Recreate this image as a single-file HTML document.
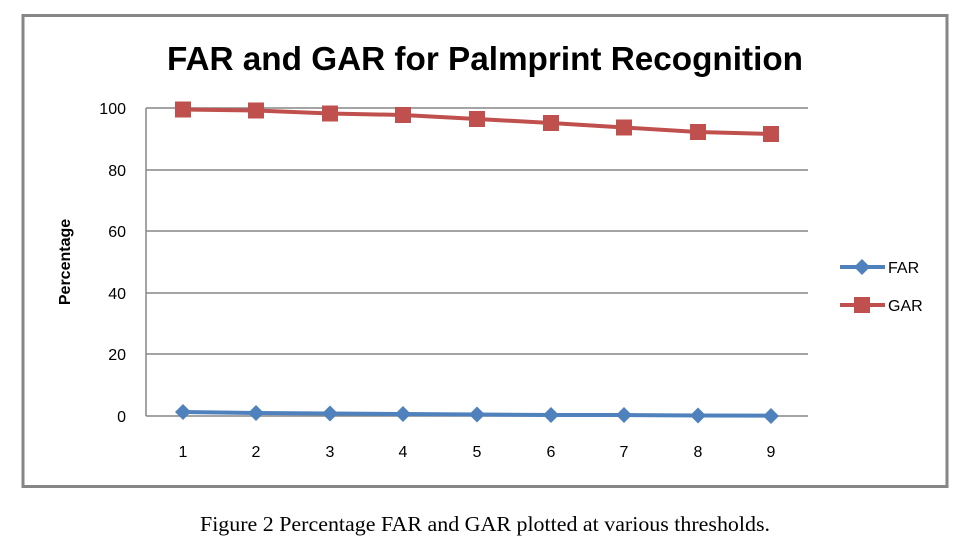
<!DOCTYPE html>
<html><head><style>body{margin:0;background:#fff}svg{display:block}</style></head><body>
<svg width="974" height="545" xmlns="http://www.w3.org/2000/svg" font-family="Liberation Sans, sans-serif">
<rect x="0" y="0" width="974" height="545" fill="#fff"/>
<rect x="23" y="15.5" width="924" height="471" fill="none" stroke="#868686" stroke-width="3"/>
<text x="167" y="70" font-size="33" font-weight="bold" textLength="636" lengthAdjust="spacingAndGlyphs">FAR and GAR for Palmprint Recognition</text>
<g stroke="#868686" stroke-width="1.5">
<line x1="146" y1="108" x2="808" y2="108"/><line x1="146" y1="170" x2="808" y2="170"/>
<line x1="146" y1="231" x2="808" y2="231"/><line x1="146" y1="293" x2="808" y2="293"/>
<line x1="146" y1="354" x2="808" y2="354"/><line x1="146" y1="416" x2="808" y2="416"/>
<line x1="146" y1="108" x2="146" y2="416"/>
</g>
<g font-size="16" text-anchor="end">
<text x="126" y="114">100</text><text x="126" y="176">80</text><text x="126" y="237">60</text>
<text x="126" y="299">40</text><text x="126" y="360">20</text><text x="126" y="422">0</text>
</g>
<g font-size="16" text-anchor="middle">
<text x="183" y="457">1</text><text x="256" y="457">2</text><text x="330" y="457">3</text><text x="403" y="457">4</text>
<text x="477" y="457">5</text><text x="551" y="457">6</text><text x="624" y="457">7</text><text x="698" y="457">8</text><text x="771" y="457">9</text>
</g>
<text transform="translate(70,262) rotate(-90)" text-anchor="middle" font-size="16" font-weight="bold">Percentage</text>
<polyline fill="none" stroke="#4f81bd" stroke-width="4" points="183,412 256,413 330,413.5 403,414 477,414.5 551,415 624,415 698,415.5 771,415.7"/>
<g fill="#4f81bd">
<polygon points="183,404 191,412 183,420 175,412"/><polygon points="256,405 264,413 256,421 248,413"/>
<polygon points="330,405.5 338,413.5 330,421.5 322,413.5"/><polygon points="403,406 411,414 403,422 395,414"/>
<polygon points="477,406.5 485,414.5 477,422.5 469,414.5"/><polygon points="551,407 559,415 551,423 543,415"/>
<polygon points="624,407 632,415 624,423 616,415"/><polygon points="698,407.5 706,415.5 698,423.5 690,415.5"/>
<polygon points="771,408 779,416 771,424 763,416"/>
</g>
<polyline fill="none" stroke="#c0504d" stroke-width="4" points="183,109.5 256,110.5 330,113.5 403,115 477,119 551,123 624,127.5 698,132 771,134"/>
<g fill="#c0504d">
<rect x="175" y="101.5" width="16" height="16"/><rect x="248" y="102.5" width="16" height="16"/>
<rect x="322" y="105.5" width="16" height="16"/><rect x="395" y="107" width="16" height="16"/>
<rect x="469" y="111" width="16" height="16"/><rect x="543" y="115" width="16" height="16"/>
<rect x="616" y="119.5" width="16" height="16"/><rect x="690" y="124" width="16" height="16"/>
<rect x="763" y="126" width="16" height="16"/>
</g>
<line x1="840" y1="267" x2="885" y2="267" stroke="#4f81bd" stroke-width="4"/>
<polygon points="862,259 870,267 862,275 854,267" fill="#4f81bd"/>
<text x="888" y="273" font-size="16">FAR</text>
<line x1="840" y1="305" x2="885" y2="305" stroke="#c0504d" stroke-width="4"/>
<rect x="854" y="297" width="16" height="16" fill="#c0504d"/>
<text x="888" y="311" font-size="16">GAR</text>
<text x="200" y="531" font-size="21" font-family="Liberation Serif, serif" textLength="570" lengthAdjust="spacingAndGlyphs">Figure 2 Percentage FAR and GAR plotted at various thresholds.</text>
</svg>
</body></html>
